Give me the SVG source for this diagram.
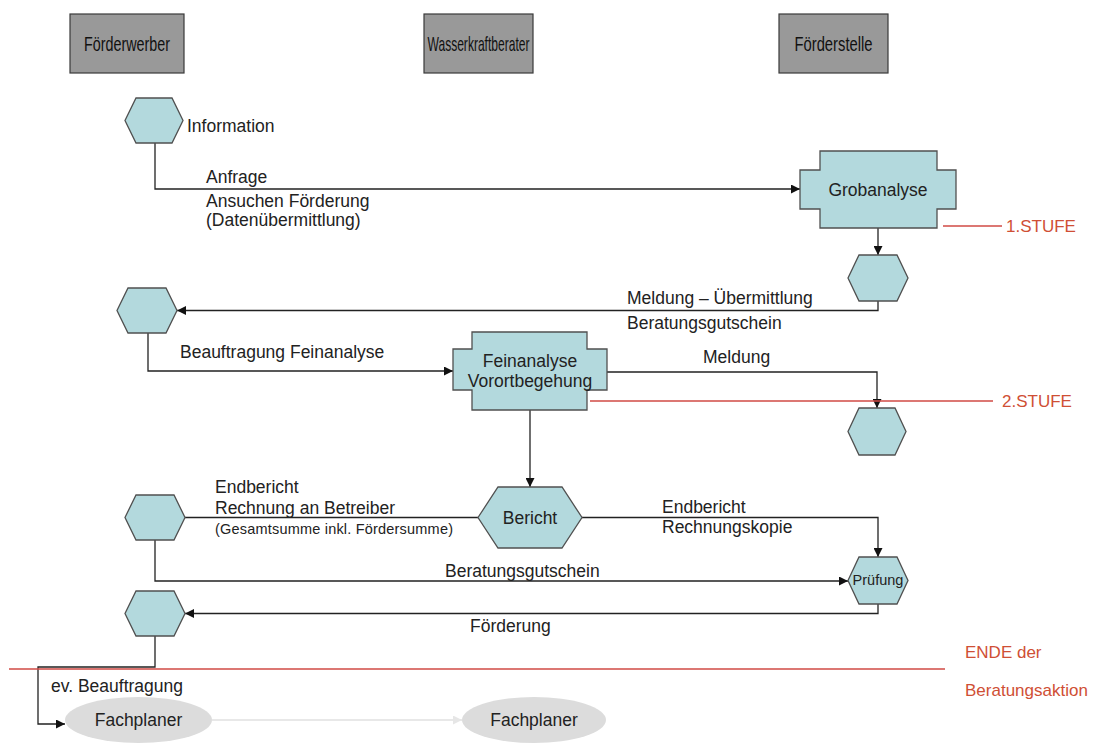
<svg xmlns="http://www.w3.org/2000/svg" width="1093" height="743" viewBox="0 0 1093 743">
<defs>
<style>
.hdr{fill:#999999;stroke:#3a3a3a;stroke-width:1.2}
.hdrt{font-family:"Liberation Sans",Arial,sans-serif;font-size:21px;fill:#111;text-anchor:middle}
.nd{fill:#b3d9dd;stroke:#505050;stroke-width:1.3}
.t{font-family:"Liberation Sans",Arial,sans-serif;font-size:17.5px;fill:#222}
.tc{font-family:"Liberation Sans",Arial,sans-serif;font-size:17.5px;fill:#222;text-anchor:middle}
.ts{font-family:"Liberation Sans",Arial,sans-serif;font-size:14.5px;fill:#222}
.red{stroke:#d04a45;stroke-width:1.3;fill:none}
.redt{font-family:"Liberation Sans",Arial,sans-serif;font-size:17px;fill:#cf4f35}
.c{fill:none;stroke:#222;stroke-width:1.3}
.cl{fill:none;stroke:#e0e0e0;stroke-width:1.3}
.ell{fill:#dcdcdc}
</style>
<marker id="ah" viewBox="0 0 10 10" refX="10" refY="5" markerWidth="9" markerHeight="9" markerUnits="userSpaceOnUse" orient="auto"><path d="M0,0 L10,5 L0,10 z" fill="#111"/></marker>
<marker id="ahl" viewBox="0 0 10 10" refX="10" refY="5" markerWidth="9" markerHeight="9" markerUnits="userSpaceOnUse" orient="auto"><path d="M0,0 L10,5 L0,10 z" fill="#e6e6e6"/></marker>
</defs>
<rect width="1093" height="743" fill="#fff"/>

<g id="hdr-foerderwerber"><rect class="hdr" x="70" y="14" width="114" height="59"/><text class="hdrt" x="127" y="51" textLength="86" lengthAdjust="spacingAndGlyphs">Förderwerber</text></g>
<g id="hdr-wasserkraftberater"><rect class="hdr" x="424" y="14" width="109" height="59"/><text class="hdrt" x="478.5" y="51" textLength="102" lengthAdjust="spacingAndGlyphs">Wasserkraftberater</text></g>
<g id="hdr-foerderstelle"><rect class="hdr" x="779" y="14" width="109" height="59"/><text class="hdrt" x="833.5" y="51" textLength="78" lengthAdjust="spacingAndGlyphs">Förderstelle</text></g>

<g id="connectors">
<path class="c" d="M155 143 V189 H800" marker-end="url(#ah)"/>
<path class="c" d="M878 228 V255" marker-end="url(#ah)"/>
<path class="c" d="M878 301 V310.5 H177" marker-end="url(#ah)"/>
<path class="c" d="M148 333 V371 H453" marker-end="url(#ah)"/>
<path class="c" d="M607 372 H877 V408" marker-end="url(#ah)"/>
<path class="c" d="M530 410 V487" marker-end="url(#ah)"/>
<path class="c" d="M478 517.5 H185"/>
<path class="c" d="M582 517.5 H878 V557" marker-end="url(#ah)"/>
<path class="c" d="M155 540 V581 H848" marker-end="url(#ah)"/>
<path class="c" d="M878 604 V613.5 H185" marker-end="url(#ah)"/>
<path class="c" d="M155 636 V667 H38 V724 H65" marker-end="url(#ah)"/>
<path class="cl" d="M212 720 H462" marker-end="url(#ahl)"/>
</g>

<g id="stage-lines">
<path class="red" d="M943 226 H1002"/>
<text class="redt" x="1006" y="232">1.STUFE</text>
<path class="red" d="M590 401 H993"/>
<text class="redt" x="1002" y="407">2.STUFE</text>
<path class="red" d="M9 669 H945"/>
<text class="redt" x="965" y="658">ENDE der</text>
<text class="redt" x="965" y="696">Beratungsaktion</text>
</g>

<g id="n-information"><polygon class="nd" points="125,120.5 136,98 172,98 183,120.5 172,143 136,143"/><text class="t" x="187" y="132">Information</text></g>
<g id="n-grobanalyse"><polygon class="nd" points="820,151 937,151 937,170 956,170 956,209 937,209 937,228 820,228 820,209 800,209 800,170 820,170"/><text class="tc" x="878" y="196">Grobanalyse</text></g>
<g id="n-hex-grob"><polygon class="nd" points="848,278 859,255 897,255 908,278 897,301 859,301"/></g>
<g id="n-hex-left2"><polygon class="nd" points="117,310.5 128,288 166,288 177,310.5 166,333 128,333"/></g>
<g id="n-feinanalyse"><polygon class="nd" points="472,332 587,332 587,349 607,349 607,390 587,390 587,410 472,410 472,390 453,390 453,349 472,349"/><text class="tc" x="530" y="367">Feinanalyse</text><text class="tc" x="530" y="387">Vorortbegehung</text></g>
<g id="n-hex-meldung"><polygon class="nd" points="848,431.5 859,408 895,408 906,431.5 895,455 859,455"/></g>
<g id="n-bericht"><polygon class="nd" points="478,517.5 498,487 562,487 582,517.5 562,548 498,548"/><text class="tc" x="530" y="524">Bericht</text></g>
<g id="n-hex-left3"><polygon class="nd" points="125,517.5 136,495 174,495 185,517.5 174,540 136,540"/></g>
<g id="n-pruefung"><polygon class="nd" points="848,580.5 859,557 897,557 908,580.5 897,604 859,604"/><text class="ts" x="878" y="585" text-anchor="middle">Prüfung</text></g>
<g id="n-hex-left4"><polygon class="nd" points="125,613.5 136,591 174,591 185,613.5 174,636 136,636"/></g>
<g id="n-fachplaner1"><ellipse class="ell" cx="138.5" cy="720" rx="73.5" ry="23"/><text class="tc" x="138.5" y="726">Fachplaner</text></g>
<g id="n-fachplaner2"><ellipse class="ell" cx="534" cy="720" rx="72" ry="23"/><text class="tc" x="534" y="726">Fachplaner</text></g>

<g id="labels">
<text class="t" x="206" y="183">Anfrage</text>
<text class="t" x="206" y="207">Ansuchen Förderung</text>
<text class="t" x="206" y="226">(Datenübermittlung)</text>
<text class="t" x="627" y="304">Meldung – Übermittlung</text>
<text class="t" x="627" y="329">Beratungsgutschein</text>
<text class="t" x="180" y="358">Beauftragung Feinanalyse</text>
<text class="t" x="703" y="363">Meldung</text>
<text class="t" x="215" y="493">Endbericht</text>
<text class="t" x="215" y="514">Rechnung an Betreiber</text>
<text class="ts" x="215" y="534" textLength="238" lengthAdjust="spacing">(Gesamtsumme inkl. Fördersumme)</text>
<text class="t" x="662" y="513">Endbericht</text>
<text class="t" x="662" y="533">Rechnungskopie</text>
<text class="t" x="445" y="577">Beratungsgutschein</text>
<text class="t" x="470" y="632">Förderung</text>
<text class="t" x="51" y="692">ev. Beauftragung</text>
</g>
</svg>
